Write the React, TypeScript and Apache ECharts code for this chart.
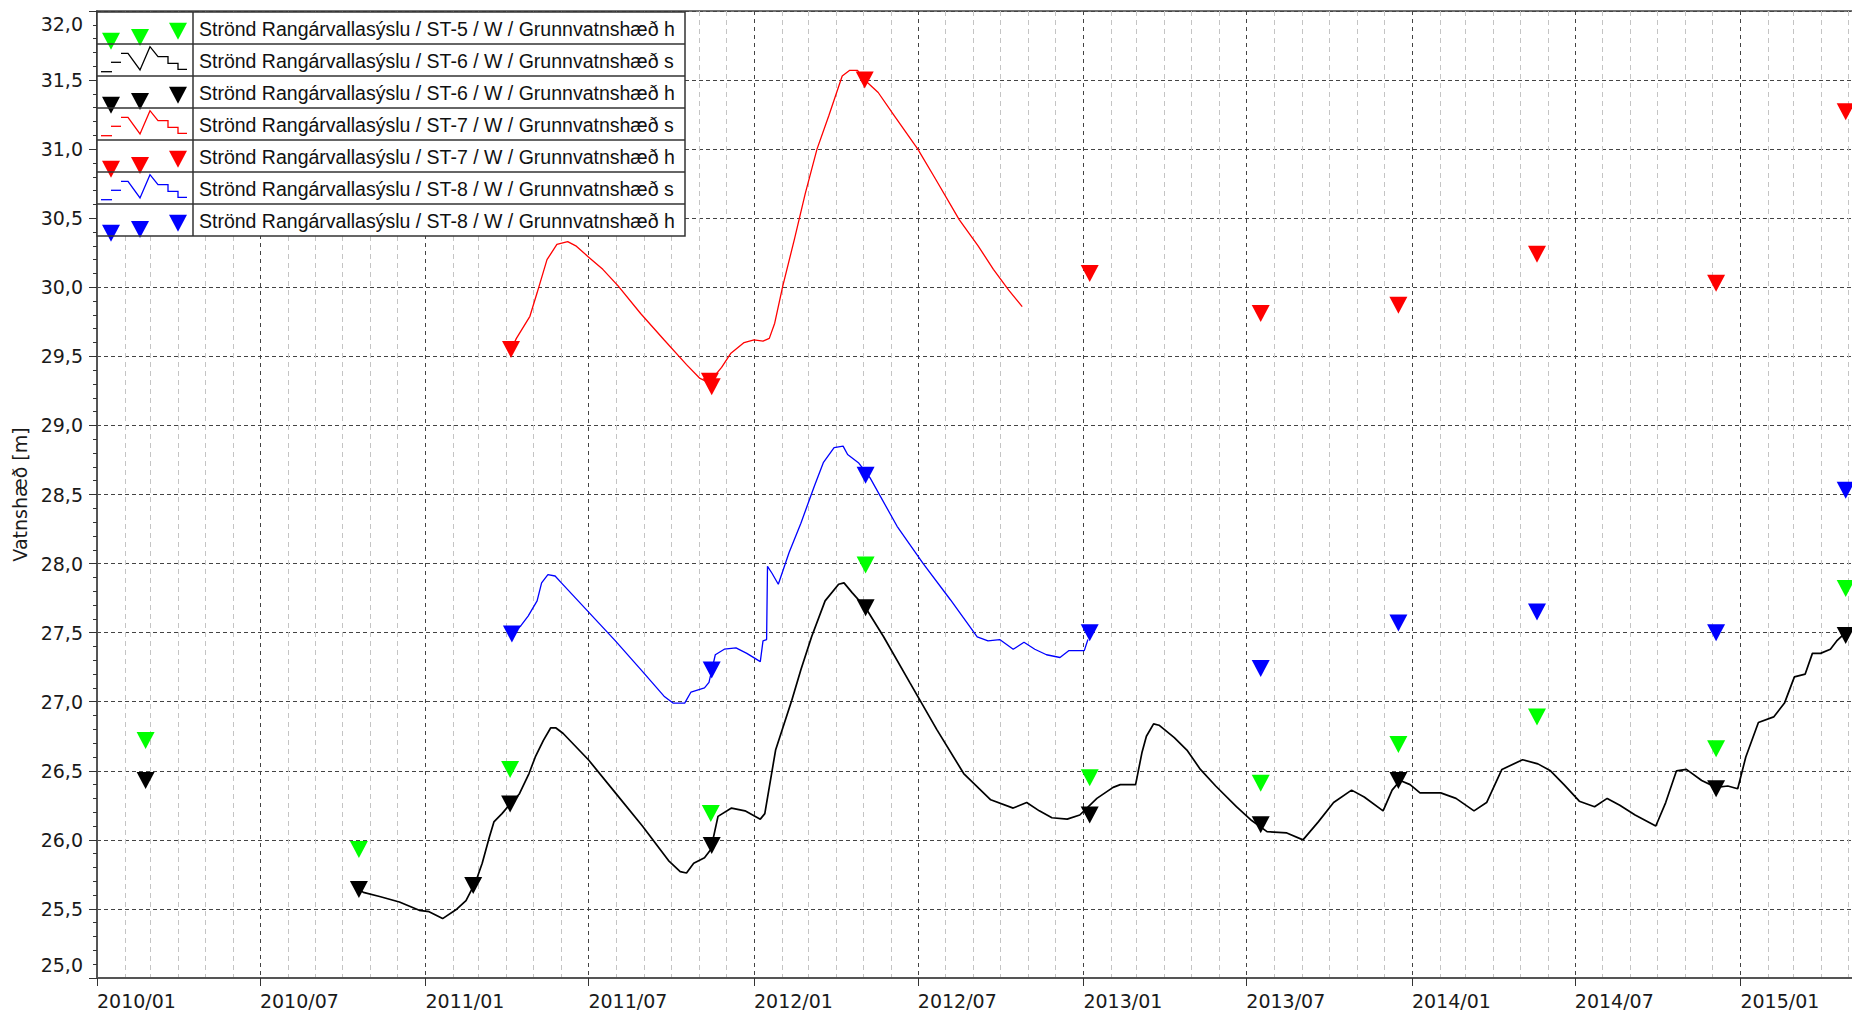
import React, { useEffect, useRef } from "react";
import * as echarts from "echarts";

// ---------- data ----------
const seriesNames = [
  "Strönd Rangárvallasýslu / ST-5 / W / Grunnvatnshæð h",
  "Strönd Rangárvallasýslu / ST-6 / W / Grunnvatnshæð s",
  "Strönd Rangárvallasýslu / ST-6 / W / Grunnvatnshæð h",
  "Strönd Rangárvallasýslu / ST-7 / W / Grunnvatnshæð s",
  "Strönd Rangárvallasýslu / ST-7 / W / Grunnvatnshæð h",
  "Strönd Rangárvallasýslu / ST-8 / W / Grunnvatnshæð s",
  "Strönd Rangárvallasýslu / ST-8 / W / Grunnvatnshæð h",
];

const xTickLabels = [
  "2010/01", "2010/07", "2011/01", "2011/07", "2012/01", "2012/07",
  "2013/01", "2013/07", "2014/01", "2014/07", "2015/01",
];

const xMin = "2010-01-01";
const xMax = "2015-05-25";
const yMin = 25;
const yMax = 32;
const yStep = 0.5;
const yAxisName = "Vatnshæð [m]";

const st5Manual: [string, number][] = [
  ["2010-02-24", 26.72], ["2010-10-19", 25.93], ["2011-04-05", 26.51],
  ["2011-11-14", 26.19], ["2012-05-04", 27.99], ["2013-01-08", 26.45],
  ["2013-07-17", 26.41], ["2013-12-17", 26.69], ["2014-05-20", 26.89],
  ["2014-12-05", 26.66], ["2015-04-28", 27.82],
];

const st6Manual: [string, number][] = [
  ["2010-02-24", 26.43], ["2010-10-19", 25.64], ["2011-02-23", 25.67],
  ["2011-04-05", 26.26], ["2011-11-15", 25.96], ["2012-05-04", 27.68],
  ["2013-01-08", 26.18], ["2013-07-17", 26.11], ["2013-12-17", 26.43],
  ["2014-12-05", 26.37], ["2015-04-28", 27.48],
];

const st7Manual: [string, number][] = [
  ["2011-04-06", 29.55], ["2011-11-13", 29.32], ["2011-11-15", 29.28],
  ["2012-05-03", 31.5], ["2013-01-08", 30.1], ["2013-07-17", 29.81],
  ["2013-12-17", 29.87], ["2014-05-20", 30.24], ["2014-12-05", 30.03],
  ["2015-04-28", 31.27],
];

const st8Manual: [string, number][] = [
  ["2011-04-07", 27.49], ["2011-11-15", 27.23], ["2012-05-04", 28.64],
  ["2013-01-08", 27.5], ["2013-07-17", 27.24], ["2013-12-17", 27.57],
  ["2014-05-20", 27.65], ["2014-12-05", 27.5], ["2015-04-28", 28.53],
];

const st6Logger: [string, number][] = [
  ["2010-10-19", 25.64], ["2010-10-24", 25.62], ["2010-11-11", 25.59],
  ["2010-12-03", 25.55], ["2010-12-25", 25.49], ["2011-01-05", 25.48],
  ["2011-01-20", 25.43], ["2011-02-05", 25.5], ["2011-02-15", 25.56],
  ["2011-02-26", 25.7], ["2011-03-05", 25.83], ["2011-03-13", 26.02],
  ["2011-03-18", 26.13], ["2011-03-27", 26.19], ["2011-04-05", 26.26],
  ["2011-04-15", 26.33], ["2011-04-26", 26.48], ["2011-05-03", 26.6],
  ["2011-05-12", 26.72], ["2011-05-20", 26.81], ["2011-05-26", 26.81],
  ["2011-06-03", 26.77], ["2011-07-01", 26.58], ["2011-07-31", 26.34],
  ["2011-08-30", 26.1], ["2011-09-28", 25.85], ["2011-10-11", 25.77],
  ["2011-10-18", 25.76], ["2011-10-26", 25.83], ["2011-11-07", 25.87],
  ["2011-11-14", 25.93], ["2011-11-22", 26.17], ["2011-12-07", 26.23],
  ["2011-12-22", 26.21], ["2012-01-08", 26.15], ["2012-01-13", 26.19],
  ["2012-01-25", 26.65], ["2012-02-12", 27.01], ["2012-02-22", 27.23],
  ["2012-03-05", 27.47], ["2012-03-20", 27.73], ["2012-04-04", 27.85],
  ["2012-04-10", 27.86], ["2012-04-19", 27.79], ["2012-05-04", 27.68],
  ["2012-05-24", 27.47], ["2012-06-22", 27.14], ["2012-07-22", 26.8],
  ["2012-08-21", 26.48], ["2012-09-20", 26.29], ["2012-10-15", 26.23],
  ["2012-10-30", 26.27], ["2012-11-13", 26.21], ["2012-11-27", 26.16],
  ["2012-12-14", 26.15], ["2012-12-28", 26.18], ["2013-01-16", 26.3],
  ["2013-02-03", 26.38], ["2013-02-11", 26.4], ["2013-02-28", 26.4],
  ["2013-03-07", 26.63], ["2013-03-12", 26.75], ["2013-03-20", 26.84],
  ["2013-03-26", 26.83], ["2013-04-12", 26.74], ["2013-04-26", 26.65],
  ["2013-05-11", 26.51], ["2013-05-28", 26.39], ["2013-06-20", 26.24],
  ["2013-07-07", 26.14], ["2013-07-24", 26.06], ["2013-08-15", 26.05],
  ["2013-09-02", 26.0], ["2013-09-19", 26.13], ["2013-10-06", 26.27],
  ["2013-10-26", 26.36], ["2013-11-09", 26.31], ["2013-11-30", 26.21],
  ["2013-12-10", 26.36], ["2013-12-19", 26.43], ["2013-12-30", 26.4],
  ["2014-01-10", 26.34], ["2014-02-02", 26.34], ["2014-02-19", 26.3],
  ["2014-03-11", 26.21], ["2014-03-25", 26.27], ["2014-04-11", 26.51],
  ["2014-05-04", 26.58], ["2014-05-21", 26.55], ["2014-06-04", 26.5],
  ["2014-06-19", 26.4], ["2014-07-06", 26.28], ["2014-07-23", 26.24],
  ["2014-08-06", 26.3], ["2014-08-20", 26.25], ["2014-09-06", 26.18],
  ["2014-09-29", 26.1], ["2014-10-10", 26.27], ["2014-10-22", 26.5],
  ["2014-11-02", 26.51], ["2014-11-19", 26.43], ["2014-12-05", 26.38],
  ["2014-12-18", 26.39], ["2014-12-29", 26.37], ["2015-01-07", 26.6],
  ["2015-01-21", 26.85], ["2015-02-07", 26.89], ["2015-02-19", 26.99],
  ["2015-03-02", 27.18], ["2015-03-14", 27.2], ["2015-03-22", 27.35],
  ["2015-03-31", 27.35], ["2015-04-11", 27.38], ["2015-04-18", 27.44],
  ["2015-04-26", 27.49],
];

const st7Logger: [string, number][] = [
  ["2011-04-06", 29.55], ["2011-04-12", 29.63], ["2011-04-27", 29.79],
  ["2011-05-05", 29.96], ["2011-05-16", 30.2], ["2011-05-27", 30.31],
  ["2011-06-08", 30.33], ["2011-06-17", 30.3], ["2011-07-01", 30.22],
  ["2011-07-17", 30.13], ["2011-08-03", 30.01], ["2011-08-28", 29.81],
  ["2011-09-23", 29.62], ["2011-10-18", 29.44], ["2011-11-02", 29.34],
  ["2011-11-12", 29.31], ["2011-11-26", 29.42], ["2011-12-06", 29.52],
  ["2011-12-21", 29.6], ["2012-01-01", 29.62], ["2012-01-11", 29.61],
  ["2012-01-18", 29.63], ["2012-01-24", 29.74], ["2012-02-02", 30.01],
  ["2012-02-15", 30.35], ["2012-02-27", 30.68], ["2012-03-11", 31.0],
  ["2012-03-24", 31.24], ["2012-04-08", 31.53], ["2012-04-16", 31.57],
  ["2012-04-25", 31.57], ["2012-05-03", 31.5], ["2012-05-18", 31.41],
  ["2012-06-04", 31.25], ["2012-07-01", 31.0], ["2012-07-21", 30.78],
  ["2012-08-16", 30.49], ["2012-09-06", 30.3], ["2012-09-23", 30.13],
  ["2012-10-10", 29.98], ["2012-10-25", 29.86],
];

const st8Logger: [string, number][] = [
  ["2011-04-07", 27.49], ["2011-04-17", 27.55], ["2011-04-25", 27.62],
  ["2011-05-05", 27.73], ["2011-05-10", 27.86], ["2011-05-17", 27.92],
  ["2011-05-25", 27.91], ["2011-06-01", 27.86], ["2011-07-01", 27.65],
  ["2011-07-31", 27.44], ["2011-08-30", 27.22], ["2011-09-23", 27.04],
  ["2011-10-03", 26.99], ["2011-10-16", 26.99], ["2011-10-23", 27.07],
  ["2011-11-07", 27.1], ["2011-11-12", 27.14], ["2011-11-19", 27.34],
  ["2011-11-29", 27.38], ["2011-12-12", 27.39], ["2011-12-24", 27.35],
  ["2012-01-08", 27.29], ["2012-01-11", 27.44], ["2012-01-15", 27.45],
  ["2012-01-16", 27.98], ["2012-01-21", 27.93], ["2012-01-28", 27.85],
  ["2012-02-09", 28.08], ["2012-02-22", 28.29], ["2012-03-08", 28.56],
  ["2012-03-18", 28.73], ["2012-03-30", 28.84], ["2012-04-09", 28.85],
  ["2012-04-14", 28.79], ["2012-04-26", 28.73], ["2012-05-09", 28.62],
  ["2012-06-08", 28.27], ["2012-07-07", 28.0], ["2012-08-06", 27.74],
  ["2012-09-05", 27.47], ["2012-09-17", 27.44], ["2012-09-30", 27.45],
  ["2012-10-15", 27.38], ["2012-10-27", 27.43], ["2012-11-08", 27.38],
  ["2012-11-21", 27.34], ["2012-12-06", 27.32], ["2012-12-16", 27.37],
  ["2013-01-02", 27.37], ["2013-01-06", 27.45],
];

// ---------- styling ----------
const GREEN = "#00ff00";
const BLACK = "#000000";
const RED = "#ff0000";
const BLUE = "#0000ff";
const rowColors = [GREEN, BLACK, BLACK, RED, RED, BLUE, BLUE];
const rowKinds = ["h", "s", "h", "s", "h", "s", "h"];

const AXIS_FONT = "DejaVu Sans";
const LEGEND_FONT = "Liberation Sans";
const TRI = "path://M0,0L20,0L10,19Z";

function ts(s: string): number {
  const [y, m, d] = s.split("-").map(Number);
  return Date.UTC(y, m - 1, d);
}

function buildLegend() {
  const L = 97, R = 685, T = 12, RH = 32, SEP = 193;
  const els: any[] = [];
  els.push({
    type: "rect",
    shape: { x: L, y: T, width: R - L, height: RH * 7 },
    style: { fill: "#ffffff", stroke: "none" },
    z: 100,
  });
  seriesNames.forEach((name, i) => {
    const top = T + RH * i;
    const c = rowColors[i];
    if (rowKinds[i] === "h") {
      const tris = [
        [111, 20.7],
        [140, 17],
        [178, 10.7],
      ];
      tris.forEach(([cx, dy]) => {
        els.push({
          type: "polygon",
          shape: { points: [[cx - 9, top + dy], [cx + 9, top + dy], [cx, top + dy + 17]] },
          style: { fill: c },
          z: 101,
        });
      });
    } else {
      els.push({
        type: "polyline",
        shape: { points: [[101, top + 27.7], [112, top + 27.7]] },
        style: { stroke: c, lineWidth: 1.3, fill: "none" },
        z: 101,
      });
      els.push({
        type: "polyline",
        shape: { points: [[111, top + 18.3], [121, top + 18.3]] },
        style: { stroke: c, lineWidth: 1.3, fill: "none" },
        z: 101,
      });
      els.push({
        type: "polyline",
        shape: {
          points: [
            [121, top + 9.3], [128, top + 9.3], [140, top + 26], [150, top + 2.7],
            [158, top + 12.7], [168, top + 12.7], [168, top + 19.3], [178, top + 19.3],
            [178, top + 25.3], [187, top + 25.3],
          ],
        },
        style: { stroke: c, lineWidth: 1.3, fill: "none" },
        z: 101,
      });
    }
    els.push({
      type: "text",
      x: 199,
      y: top + RH / 2 + 1,
      style: {
        text: name,
        fill: "#111",
        font: `19.5px "${LEGEND_FONT}"`,
        verticalAlign: "middle",
        align: "left",
      },
      z: 102,
    });
    if (i > 0) {
      els.push({
        type: "line",
        shape: { x1: L, y1: top, x2: R, y2: top },
        style: { stroke: "#333", lineWidth: 1.5 },
        z: 103,
      });
    }
  });
  els.push({
    type: "line",
    shape: { x1: SEP, y1: T, x2: SEP, y2: T + RH * 7 },
    style: { stroke: "#333", lineWidth: 1.5 },
    z: 103,
  });
  els.push({
    type: "rect",
    shape: { x: L, y: T, width: R - L, height: RH * 7 },
    style: { fill: "none", stroke: "#333", lineWidth: 1.5 },
    z: 103,
  });
  return els;
}

export default function App() {
  const ref = useRef<HTMLDivElement>(null);

  useEffect(() => {
    if (!ref.current) return;
    const chart = echarts.init(ref.current, null, { renderer: "svg" });

    const majorTimes = xTickLabels.map((l) => ts(l.replace("/", "-") + "-01"));
    const labelByTime = new Map<number, string>();
    majorTimes.forEach((t, i) => labelByTime.set(t, xTickLabels[i]));

    const minT = ts(xMin);
    const maxT = ts(xMax);
    const minorTimes: number[] = [];
    for (let y = 2010; y <= 2015; y++) {
      for (let m = 1; m <= 12; m++) {
        if (m === 1 || m === 7) continue;
        const t = Date.UTC(y, m - 1, 1);
        if (t > minT && t < maxT) minorTimes.push(t);
      }
    }

    const fmtY = (v: number) => v.toFixed(1).replace(".", ",");
    const toXY = (d: [string, number][]) => d.map(([s, v]) => [ts(s), v]);

    const scatter = (name: string, data: [string, number][], color: string) => ({
      name,
      type: "scatter",
      data: toXY(data),
      symbol: TRI,
      symbolSize: [18, 17],
      itemStyle: { color, opacity: 1 },
      z: 5,
    });
    const line = (name: string, data: [string, number][], color: string, w: number) => ({
      name,
      type: "line",
      data: toXY(data),
      showSymbol: false,
      symbol: "none",
      lineStyle: { color, width: w },
      itemStyle: { color },
      z: 3,
    });

    chart.setOption({
      animation: false,
      backgroundColor: "#ffffff",
      grid: {
        left: 97,
        top: 11,
        right: 0,
        bottom: 35,
        show: true,
        borderColor: "#444",
        borderWidth: 1.5,
        backgroundColor: "transparent",
      },
      xAxis: [
        {
          type: "value",
          min: minT,
          max: maxT,
          axisLine: { show: true, onZero: false, lineStyle: { color: "#555", width: 2 } },
          axisTick: { show: true, length: 8, lineStyle: { color: "#333", width: 1 }, customValues: majorTimes },
          axisLabel: {
            customValues: majorTimes,
            formatter: (v: number) => labelByTime.get(v) ?? "",
            align: "left",
            margin: 13,
            color: "#1a1a1a",
            fontFamily: AXIS_FONT,
            fontSize: 19,
            showMinLabel: true,
            showMaxLabel: true,
          },
          splitLine: { show: true, lineStyle: { color: "#444", type: [4, 4], width: 1 } },
        },
        {
          type: "value",
          min: minT,
          max: maxT,
          axisLine: { show: false },
          axisTick: { show: false, customValues: minorTimes },
          axisLabel: { show: false, customValues: minorTimes },
          splitLine: { show: true, lineStyle: { color: "#c4c4c4", type: [5, 4], width: 1 } },
        },
      ],
      yAxis: {
        type: "value",
        min: yMin,
        max: yMax,
        interval: yStep,
        name: yAxisName,
        nameLocation: "middle",
        nameGap: 58,
        nameRotate: 90,
        nameTextStyle: { color: "#1a1a1a", fontFamily: AXIS_FONT, fontSize: 19 },
        axisLine: { show: true, lineStyle: { color: "#555", width: 2 } },
        axisTick: { show: true, length: 8, lineStyle: { color: "#333" } },
        minorTick: { show: true, splitNumber: 5, length: 4, lineStyle: { color: "#333" } },
        minorSplitLine: { show: false },
        axisLabel: {
          formatter: fmtY,
          margin: 14,
          color: "#1a1a1a",
          fontFamily: AXIS_FONT,
          fontSize: 19,
          lineHeight: 26,
          verticalAlignMinLabel: "bottom",
          verticalAlignMaxLabel: "top",
        },
        splitLine: { show: true, lineStyle: { color: "#444", type: [4, 3], width: 1 } },
      },
      series: [
        line(seriesNames[1], st6Logger, BLACK, 1.7),
        line(seriesNames[3], st7Logger, RED, 1.3),
        line(seriesNames[5], st8Logger, BLUE, 1.3),
        scatter(seriesNames[0], st5Manual, GREEN),
        scatter(seriesNames[2], st6Manual, BLACK),
        scatter(seriesNames[4], st7Manual, RED),
        scatter(seriesNames[6], st8Manual, BLUE),
      ],
      graphic: buildLegend(),
    });
    return () => chart.dispose();
  }, []);

  return (
    <div
      style={{
        position: "fixed",
        left: 0,
        top: 0,
        width: 1852,
        height: 1013,
        overflow: "hidden",
        background: "#fff",
      }}
    >
      <div ref={ref} style={{ width: 1870, height: 1013 }} />
    </div>
  );
}
